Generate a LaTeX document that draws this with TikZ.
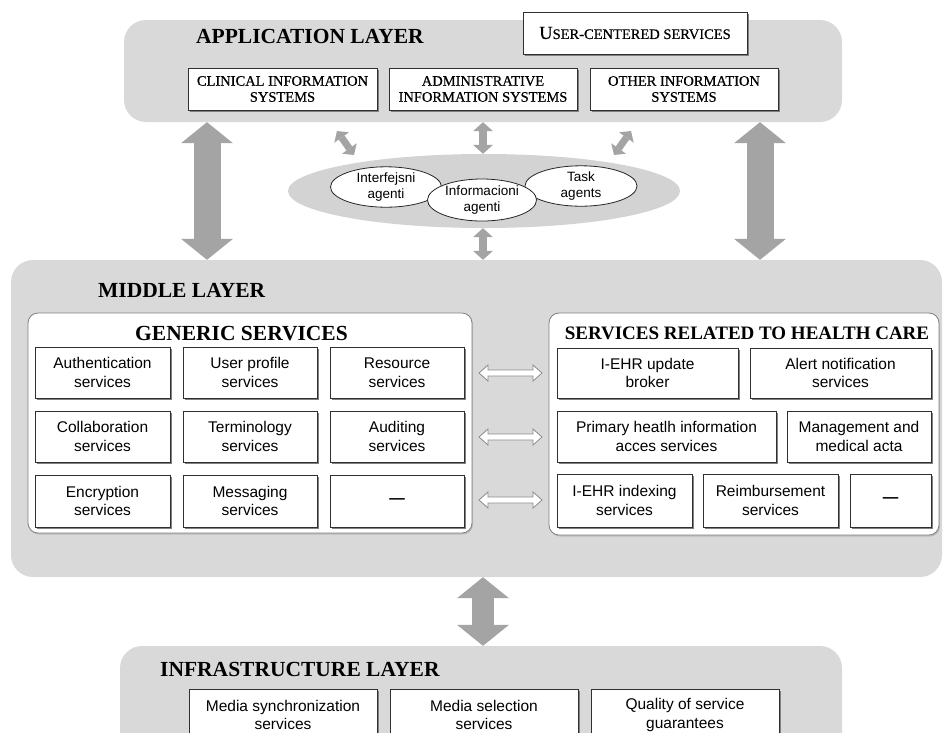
\documentclass[tikz,border=0pt]{standalone}
\usepackage{fontspec}
\setmainfont{Liberation Serif}
\setsansfont{Liberation Sans}
\newfontfamily\appserif{Liberation Serif}[FakeBold=0.6]
\usetikzlibrary{shapes.geometric,arrows.meta,shadows,calc}
\definecolor{layergray}{HTML}{D9D9D9}
\definecolor{ellgray}{HTML}{D3D3D3}
\definecolor{arrgray}{HTML}{A4A4A4}
\definecolor{boxline}{HTML}{303030}
\newcommand\bx[7]{%
  \pgfmathsetmacro\bxw{#5-#3}\pgfmathsetmacro\bxh{#6-#4}%
  \node[#1, minimum width=\bxw pt, minimum height=\bxh pt] (#2) at ({(#3+#5)/2},{(#4+#6)/2}) {#7};}
\tikzset{
  layer/.style={fill=layergray, draw=none, rounded corners=22pt, inner sep=0pt},
  titletext/.style={font=\bfseries\fontsize{21.5}{24}\selectfont, inner sep=0pt, anchor=base west},
  container/.style={fill=white, draw=black!50, line width=0.8pt, rounded corners=10pt, inner sep=0pt,
    drop shadow={shadow xshift=1pt, shadow yshift=-1.5pt, fill=black!35, opacity=0.6}},
  svc/.style={draw=boxline, fill=white, line width=0.8pt, inner sep=0pt, align=center,
    font=\sffamily\fontsize{15.5}{18.5}\selectfont,
    drop shadow={shadow xshift=2.4pt, shadow yshift=-2.4pt, fill=black!50, opacity=1}},
  appbox/.style={svc, font=\appserif\fontsize{14.5}{16}\selectfont},
  ellw/.style={ellipse, draw=black!85, fill=white, line width=0.8pt, inner sep=0pt, align=center,
    font=\sffamily\fontsize{13.5}{16}\selectfont},
  bigarr/.style={draw=arrgray, line width=27pt,
    arrows={Triangle[width=52pt,length=21pt,line width=0pt]-Triangle[width=52pt,length=21pt,line width=0pt]}},
  midarr/.style={draw=arrgray, line width=22pt,
    arrows={Triangle[width=52pt,length=21pt,line width=0pt]-Triangle[width=52pt,length=21pt,line width=0pt]}},
  smallarr/.style={draw=arrgray, line width=8pt,
    arrows={Triangle[width=20pt,length=9pt,line width=0pt]-Triangle[width=20pt,length=9pt,line width=0pt]}},
  diagarr/.style={draw=arrgray, line width=7pt,
    arrows={Triangle[width=18pt,length=8pt,line width=0pt]-Triangle[width=18pt,length=8pt,line width=0pt]}},
  hollow/.style={draw=black!45, fill=white, line width=0.8pt, line join=miter}
}
\begin{document}
\begin{tikzpicture}[x=1pt,y=-1pt]
\useasboundingbox (0,0) rectangle (943,732);
\clip (0,0) rectangle (943,732);
\fill[white] (0,0) rectangle (943,732);

% layers
\bx{layer}{app}{124}{20}{842}{122}{}
\bx{layer}{mid}{11}{260}{942}{577}{}
\bx{layer}{infra}{120}{646}{842}{790}{}

% application layer
\node[titletext] (apptitle) at (196,43) {APPLICATION LAYER};
\bx{appbox}{ucs}{523}{12}{747}{54}{{\fontsize{18.5}{18}\selectfont U}SER-CENTERED SERVICES}
\bx{appbox}{clin}{188}{68}{377}{110}{CLINICAL INFORMATION\\SYSTEMS}
\bx{appbox}{admin}{389}{68}{577}{110}{ADMINISTRATIVE\\INFORMATION SYSTEMS}
\bx{appbox}{other}{590}{68}{778}{110}{OTHER INFORMATION\\SYSTEMS}

% agents
\node[ellipse, fill=ellgray, draw=none, minimum width=392pt, minimum height=74pt, inner sep=0pt] (agents) at (484,191) {};
\node[ellw, minimum width=111pt, minimum height=40pt] (interf) at (386,187) {Interfejsni\\agenti};
\node[ellw, minimum width=112pt, minimum height=40pt] (task) at (581,186) {Task\\agents};
\node[ellw, minimum width=109pt, minimum height=42pt] (inform) at (482,200) {Informacioni\\agenti};

% middle layer
\node[titletext] (midtitle) at (98,297) {MIDDLE LAYER};
\bx{container}{gen}{28}{313}{472}{533}{}
\bx{container}{hc}{549}{313}{939}{535}{}
\node[titletext, anchor=base] (gentitle) at (241.5,340) {GENERIC SERVICES};
\node[titletext, anchor=base, font=\bfseries\fontsize{19}{22}\selectfont] (hctitle) at (747,339) {SERVICES RELATED TO HEALTH CARE};

\bx{svc}{g11}{35}{347}{170}{398}{Authentication\\services}
\bx{svc}{g12}{183}{347}{317}{398}{User profile\\services}
\bx{svc}{g13}{330}{347}{464}{398}{Resource\\services}
\bx{svc}{g21}{35}{411}{170}{462}{Collaboration\\services}
\bx{svc}{g22}{183}{411}{317}{462}{Terminology\\services}
\bx{svc}{g23}{330}{411}{464}{462}{Auditing\\services}
\bx{svc}{g31}{35}{475}{170}{527}{Encryption\\services}
\bx{svc}{g32}{183}{475}{317}{527}{Messaging\\services}
\bx{svc}{g33}{330}{475}{464}{527}{\textbf{—}}

\bx{svc}{h11}{557}{348}{738}{398}{I-EHR update\\broker}
\bx{svc}{h12}{750}{348}{931}{398}{Alert notification\\services}
\bx{svc}{h21}{557}{411}{776}{462}{Primary heatlh information\\acces services}
\bx{svc}{h22}{787}{411}{931}{462}{Management and\\medical acta}
\bx{svc}{h31}{557}{474}{692}{527}{I-EHR indexing\\services}
\bx{svc}{h32}{703}{474}{838}{527}{Reimbursement\\services}
\bx{svc}{h33}{850}{474}{931}{527}{\textbf{—}}

% infrastructure layer
\node[titletext] (inftitle) at (160,676) {INFRASTRUCTURE LAYER};
\bx{svc}{i1}{189}{689}{377}{741}{Media synchronization\\services}
\bx{svc}{i2}{390}{689}{578}{741}{Media selection\\services}
\bx{svc}{i3}{591}{689}{779}{741}{Quality of service\\guarantees}

% coordinates for arrows
\coordinate (xl) at (207,0);
\coordinate (xr) at (760,0);
\coordinate (xc) at (483,0);
\coordinate (d1a) at (337,131);
\coordinate (d1b) at (354,155);
\coordinate (d2a) at (631,131);
\coordinate (d2b) at (614,155);
\coordinate (hl1) at (479,373);
\coordinate (hl2) at (479,437);
\coordinate (hl3) at (479,500);

% arrows
\draw[bigarr] (app.south -| xl) -- (mid.north -| xl);
\draw[bigarr] (app.south -| xr) -- (mid.north -| xr);
\draw[midarr] (mid.south -| xc) -- (infra.north -| xc);
\draw[smallarr] (app.south -| xc) -- (agents.north -| xc);
\draw[smallarr] (agents.south -| xc) -- (mid.north -| xc);
\draw[diagarr] (d1a) -- (d1b);
\draw[diagarr] (d2a) -- (d2b);
\foreach \h in {hl1,hl2,hl3}{
  \draw[hollow] (\h) -- ++(9,-8) -- ++(0,5) -- ++(45,0) -- ++(0,-5) -- ++(9,8)
    -- ++(-9,8) -- ++(0,-5) -- ++(-45,0) -- ++(0,5) -- cycle;
}
\end{tikzpicture}
\end{document}
